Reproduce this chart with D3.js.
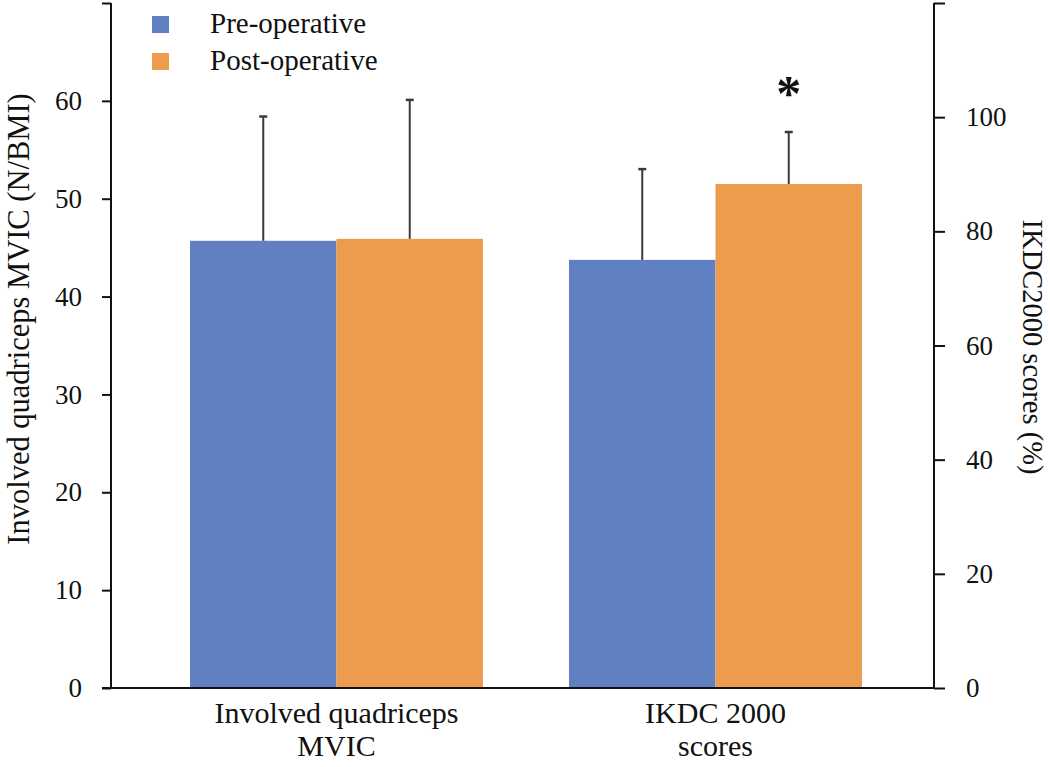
<!DOCTYPE html>
<html><head><meta charset="utf-8">
<script src="https://cdn.jsdelivr.net/npm/d3@7"></script>
<style>body{margin:0;background:#fff}svg{display:block}</style>
</head><body><svg id="c" width="1050" height="767"></svg>
<script>
const categories = ["Involved quadriceps MVIC", "IKDC 2000 scores"];
const categoryLines = [["Involved quadriceps", "MVIC"], ["IKDC 2000", "scores"]];
const seriesNames = ["Pre-operative", "Post-operative"];
const preValues = [45.7, 75.0];
const postValues = [45.9, 88.3];
const preSD = [12.7, 15.9];
const postSD = [14.2, 9.1];
const leftTicks = [0, 10, 20, 30, 40, 50, 60, 70];
const rightTicks = [0, 20, 40, 60, 80, 100, 120];
const colors = ["#6180c1", "#ec9c4c"];
const FONT = '"Liberation Serif", "Times New Roman", Times, serif';

const svg = d3.select("#c");
const L = 111, R = 934, T = 3, B = 688;
const yLeft = d3.scaleLinear().domain([0, 70]).range([B, T]);
const yRight = d3.scaleLinear().domain([0, 120]).range([B, T]);
const x0 = d3.scaleBand().domain(categories).range([147, 905]).paddingInner(0.227).paddingOuter(0.1135);
const x1 = d3.scaleBand().domain(seriesNames).range([0, x0.bandwidth()]);

const data = categories.map((c, i) => ({
  cat: c, axis: i === 0 ? yLeft : yRight,
  vals: [{s: seriesNames[0], v: preValues[i], sd: preSD[i]}, {s: seriesNames[1], v: postValues[i], sd: postSD[i]}]
}));

const g = svg.append("g");
data.forEach(d => {
  d.vals.forEach((e, j) => {
    const bx = x0(d.cat) + x1(e.s);
    g.append("rect").attr("x", bx).attr("width", x1.bandwidth())
      .attr("y", d.axis(e.v)).attr("height", B - d.axis(e.v)).attr("fill", colors[j]);
  });
});
data.forEach(d => {
  d.vals.forEach((e, j) => {
    const cx = x0(d.cat) + x1(e.s) + x1.bandwidth() / 2;
    const top = d.axis(e.v + e.sd);
    g.append("line").attr("x1", cx).attr("x2", cx).attr("y1", d.axis(e.v)).attr("y2", top)
      .attr("stroke", "#3a3a3a").attr("stroke-width", 2);
    g.append("line").attr("x1", cx - 4).attr("x2", cx + 4).attr("y1", top).attr("y2", top)
      .attr("stroke", "#3a3a3a").attr("stroke-width", 2.5);
  });
});

{
  const d = data[1], e = d.vals[1];
  const cx = x0(d.cat) + x1(e.s) + x1.bandwidth() / 2;
  svg.append("text").attr("x", cx).attr("y", d.axis(e.v + e.sd) - 22)
    .attr("text-anchor", "middle").attr("font-size", 50).attr("font-weight", "bold")
    .style("font-family", FONT).attr("fill", "#111").text("*");
}

const axL = d3.axisLeft(yLeft).tickValues(leftTicks).tickSize(9).tickPadding(20)
  .tickFormat(v => v === 70 ? "" : v);
const gl = svg.append("g").attr("transform", `translate(${L},0)`).call(axL);
const axR = d3.axisRight(yRight).tickValues(rightTicks).tickSize(11).tickPadding(21)
  .tickFormat(v => v === 120 ? "" : v);
const gr = svg.append("g").attr("transform", `translate(${R},0)`).call(axR);
[gl, gr].forEach(a => {
  a.select(".domain").attr("stroke", "#111").attr("stroke-width", 2).attr("d", `M0,${T}V${B}`);
  a.selectAll(".tick line").attr("stroke", "#111").attr("stroke-width", 2);
  a.selectAll(".tick text").attr("font-size", 27).style("font-family", FONT).attr("fill", "#111");
});
svg.append("line").attr("x1", 102).attr("x2", R + 1).attr("y1", B).attr("y2", B).attr("stroke", "#111").attr("stroke-width", 2);

categories.forEach((c, i) => {
  const cx = x0(c) + x0.bandwidth() / 2;
  const t = svg.append("text").attr("text-anchor", "middle").attr("font-size", 30)
    .style("font-family", FONT).attr("fill", "#111");
  categoryLines[i].forEach((ln, k) => {
    t.append("tspan").attr("x", cx).attr("y", 723 + k * 33).text(ln);
  });
});

svg.append("text").attr("transform", `translate(29,319) rotate(-90)`)
  .attr("text-anchor", "middle").attr("font-size", 30.5).style("font-family", FONT).attr("fill", "#111")
  .text("Involved quadriceps MVIC (N/BMI)");
svg.append("text").attr("transform", `translate(1023,347) rotate(90)`)
  .attr("text-anchor", "middle").attr("font-size", 28.5).style("font-family", FONT).attr("fill", "#111")
  .text("IKDC2000 scores (%)");

seriesNames.forEach((s, i) => {
  const ly = 16 + i * 37;
  svg.append("rect").attr("x", 152).attr("y", ly).attr("width", 17).attr("height", 17).attr("fill", colors[i]);
  svg.append("text").attr("x", 210).attr("y", ly + 17).attr("font-size", 29)
    .style("font-family", FONT).attr("fill", "#111").text(s);
});
</script></body></html>
